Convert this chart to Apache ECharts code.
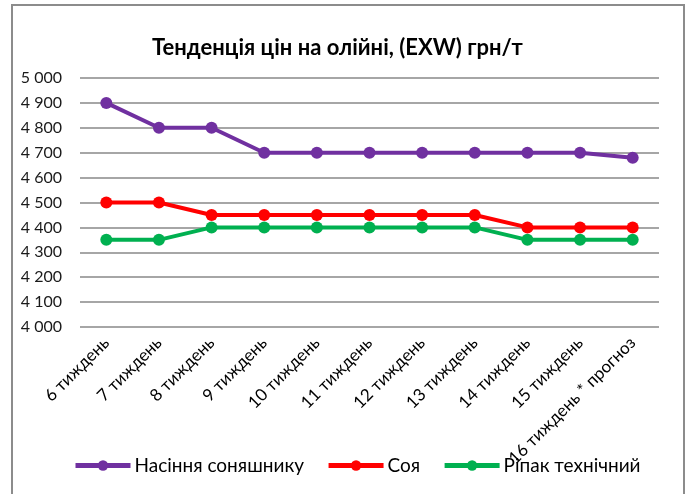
<!DOCTYPE html>
<html>
<head>
<meta charset="utf-8">
<script src="https://cdn.jsdelivr.net/npm/echarts@6/dist/echarts.min.js"></script>
<style>
html,body{margin:0;padding:0;background:#fff;}
#c{width:688px;height:494px;}
</style>
</head>
<body>
<div id="c"></div>
<script>
const categories = ['6 тиждень','7 тиждень','8 тиждень','9 тиждень','10 тиждень','11 тиждень','12 тиждень','13 тиждень','14 тиждень','15 тиждень','16 тиждень * прогноз'];
const sunflower = [4900,4800,4800,4700,4700,4700,4700,4700,4700,4700,4680];
const soy = [4500,4500,4450,4450,4450,4450,4450,4450,4400,4400,4400];
const rapeseed = [4350,4350,4400,4400,4400,4400,4400,4400,4350,4350,4350];
const seriesNames = ['Насіння соняшнику','Соя','Ріпак технічний'];
const titleText = 'Тенденція цін на олійні, (EXW) грн/т';

const FONT = 'Lato';
const chart = echarts.init(document.getElementById('c'), null, {renderer:'canvas'});
function mk(name, data, color){
  return {name, type:'line', data, symbol:'circle', symbolSize:12,
    lineStyle:{color, width:4}, itemStyle:{color}, animation:false};
}
chart.setOption({
  animation:false,
  textStyle:{fontFamily:FONT},
  title:{text:titleText, left:147, top:32, textStyle:{fontFamily:FONT, fontWeight:'bold', fontSize:22, color:'#000'}},
  graphic:[{type:'rect', shape:{x:12,y:5,width:672,height:520}, style:{fill:'none', stroke:'#8c8c8c', lineWidth:2}, silent:true}],
  legend:{left:68, top:451, itemWidth:55, itemHeight:13, itemGap:22,
    lineStyle:{width:5},
    textStyle:{fontFamily:FONT, fontSize:19, color:'#000', padding:[0,0,0,-1]}, data:seriesNames},
  grid:{left:80, right:29, top:78, bottom:167},
  xAxis:{type:'category', data:categories, boundaryGap:true,
    axisLine:{show:false}, axisTick:{show:false},
    axisLabel:{rotate:45, interval:0, fontFamily:FONT, fontSize:17, color:'#000', margin:13}},
  yAxis:{type:'value', min:4000, max:5000, interval:100,
    axisLine:{show:false}, axisTick:{show:false},
    splitLine:{lineStyle:{color:'#888888', width:1.6}},
    axisLabel:{fontFamily:FONT, fontSize:16, color:'#1a1a1a', margin:18,
      formatter:v=>String(v).replace(/\B(?=(\d{3})+(?!\d))/g,' ')}},
  series:[mk(seriesNames[0], sunflower, '#7030A0'), mk(seriesNames[1], soy, '#FF0000'), mk(seriesNames[2], rapeseed, '#00B050')]
});
</script>
</body>
</html>
